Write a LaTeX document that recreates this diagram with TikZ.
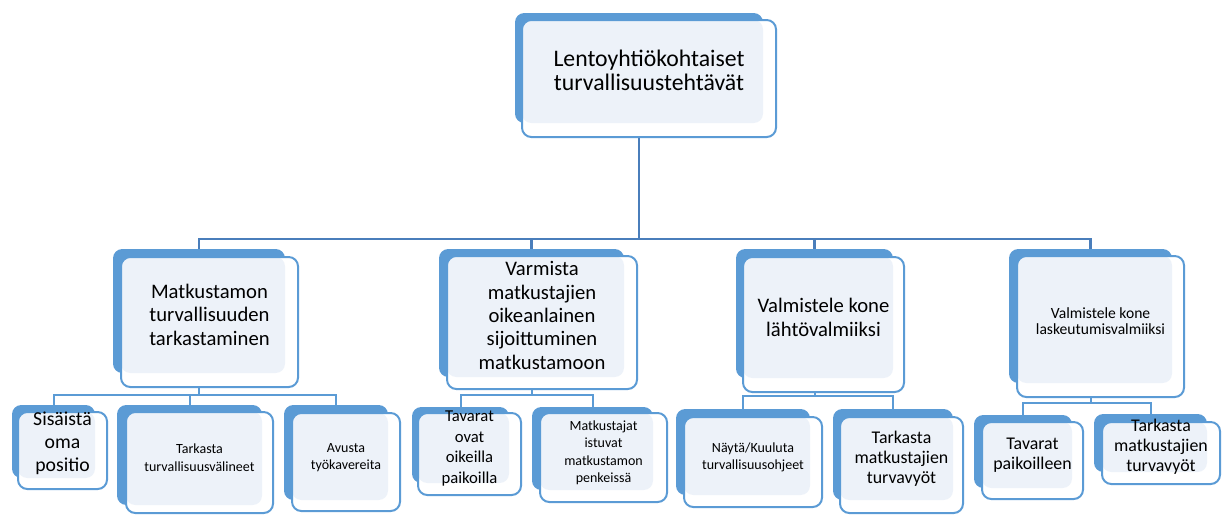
\documentclass[tikz,border=0pt]{standalone}
\usepackage{fontspec}
\setmainfont{Carlito}
\usetikzlibrary{fit,backgrounds}
\definecolor{boxblue}{HTML}{5B9BD5}
\definecolor{linedark}{HTML}{4A7EBB}
\definecolor{boxfill}{HTML}{EDF2F9}
% back box, front box, pale overlap, text
\def\smartbox(#1)(#2)(#3)(#4)#5#6#7{%
	\node[backbox, fit={(#1) (#2)}] (#5b) {};
	\fill[white, rounded corners=7pt] (#3) rectangle (#4);
	\fill[boxfill, rounded corners=7pt] (#3) rectangle (#2);
	\node[frontbox, fit={(#3) (#4)}, #6] (#5) {#7};
}

\begin{document}
\begin{tikzpicture}[x=0.75pt, y=-0.75pt,
	backbox/.style={rectangle, fill=boxblue, rounded corners=7pt, inner sep=0pt},
	frontbox/.style={rectangle, draw=boxblue, line width=1.5pt, rounded corners=7pt, inner sep=0pt, align=center},
	rootline/.style={draw=linedark, line width=2.2pt},
	busline/.style={draw=boxblue, line width=1.5pt},
	fsroot/.style={font=\fontsize{17.8}{18.5}\selectfont},
	fsmain/.style={font=\fontsize{15.5}{17.5}\selectfont},
	fsmid/.style={font=\fontsize{13.4}{15}\selectfont},
	fsless/.style={font=\fontsize{11.7}{12.5}\selectfont},
	fssmall/.style={font=\fontsize{10.5}{13}\selectfont}]
		%%%%% START %%%%%
		\useasboundingbox (0,0) rectangle (1224,515);
		
		\smartbox(515,13)(763,123)(522,20)(776,137){root}{fsroot}{Lentoyhtiökohtaiset\\turvallisuustehtävät}
		
		\smartbox(113,249)(285,373)(121,257)(298,387){a}{fsmain}{Matkustamon\\turvallisuuden\\tarkastaminen}
		\smartbox(439,249)(624,377)(447,256)(637,389){b}{fsmain}{Varmista\\matkustajien\\oikeanlainen\\sijoittuminen\\matkustamoon}
		\smartbox(736,249)(893,378)(743,257)(904,392){c}{fsmain}{Valmistele kone\\lähtövalmiiksi}
		\smartbox(1009,249)(1172,383)(1017,256)(1184,397){d}{fsless}{Valmistele kone\\laskeutumisvalmiiksi}
		
		\smartbox(12,405)(95,478)(18,412)(107,489){a1}{font=\fontsize{14.8}{17.3}\selectfont}{Sisäistä\\oma\\positio}
		\smartbox(117,405)(262,505)(126,412)(273,513){a2}{fssmall}{Tarkasta\\turvallisuusvälineet}
		\smartbox(284,405)(388,500)(292,413)(400,511){a3}{fssmall}{Avusta\\työkavereita}
		
		\smartbox(412,407)(509,483)(418,413)(521,495){b1}{font=\fontsize{12.5}{15.5}\selectfont}{Tavarat\\ovat\\oikeilla\\paikoilla}
		\smartbox(532,407)(653,490)(540,413)(667,502){b2}{fssmall}{Matkustajat\\istuvat\\matkustamon\\penkeissä}
		
		\smartbox(676,409)(810,495)(684,417)(822,507){c1}{fssmall}{Näytä/Kuuluta\\turvallisuusohjeet}
		\smartbox(833,409)(953,500)(840,417)(963,513){c2}{fsmid}{Tarkasta\\matkustajien\\turvavyöt}
		
		\smartbox(974,415)(1072,488)(982,422)(1083,499){d1}{fsmid}{Tavarat\\paikoilleen}
		\smartbox(1094,414)(1207,472)(1102,422)(1220,484){d2}{fsmid}{Tarkasta\\matkustajien\\turvavyöt}
		
		% connectors
		\begin{scope}[on background layer]
			\coordinate (rootbus) at (639,239);
			\coordinate (abus) at (0,395);
			\coordinate (bbus) at (0,395);
			\coordinate (cbus) at (0,396);
			\coordinate (dbus) at (0,403);
			\foreach \c in {a,b,c,d}
				\draw[rootline] (rootb.south) -- (rootb.south |- rootbus) -| (\c b.north);
			\foreach \c in {a1,a2,a3}
				\draw[busline] (ab.south) -- (ab.south |- abus) -| (\c b.north);
			\foreach \c in {b1,b2}
				\draw[busline] (bb.south) -- (bb.south |- bbus) -| (\c b.north);
			\foreach \c in {c1,c2}
				\draw[busline] (cb.south) -- (cb.south |- cbus) -| (\c b.north);
			\foreach \c in {d1,d2}
				\draw[busline] (db.south) -- (db.south |- dbus) -| (\c b.north);
		\end{scope}
		%%%%% END %%%%%
	\end{tikzpicture}
\end{document}
